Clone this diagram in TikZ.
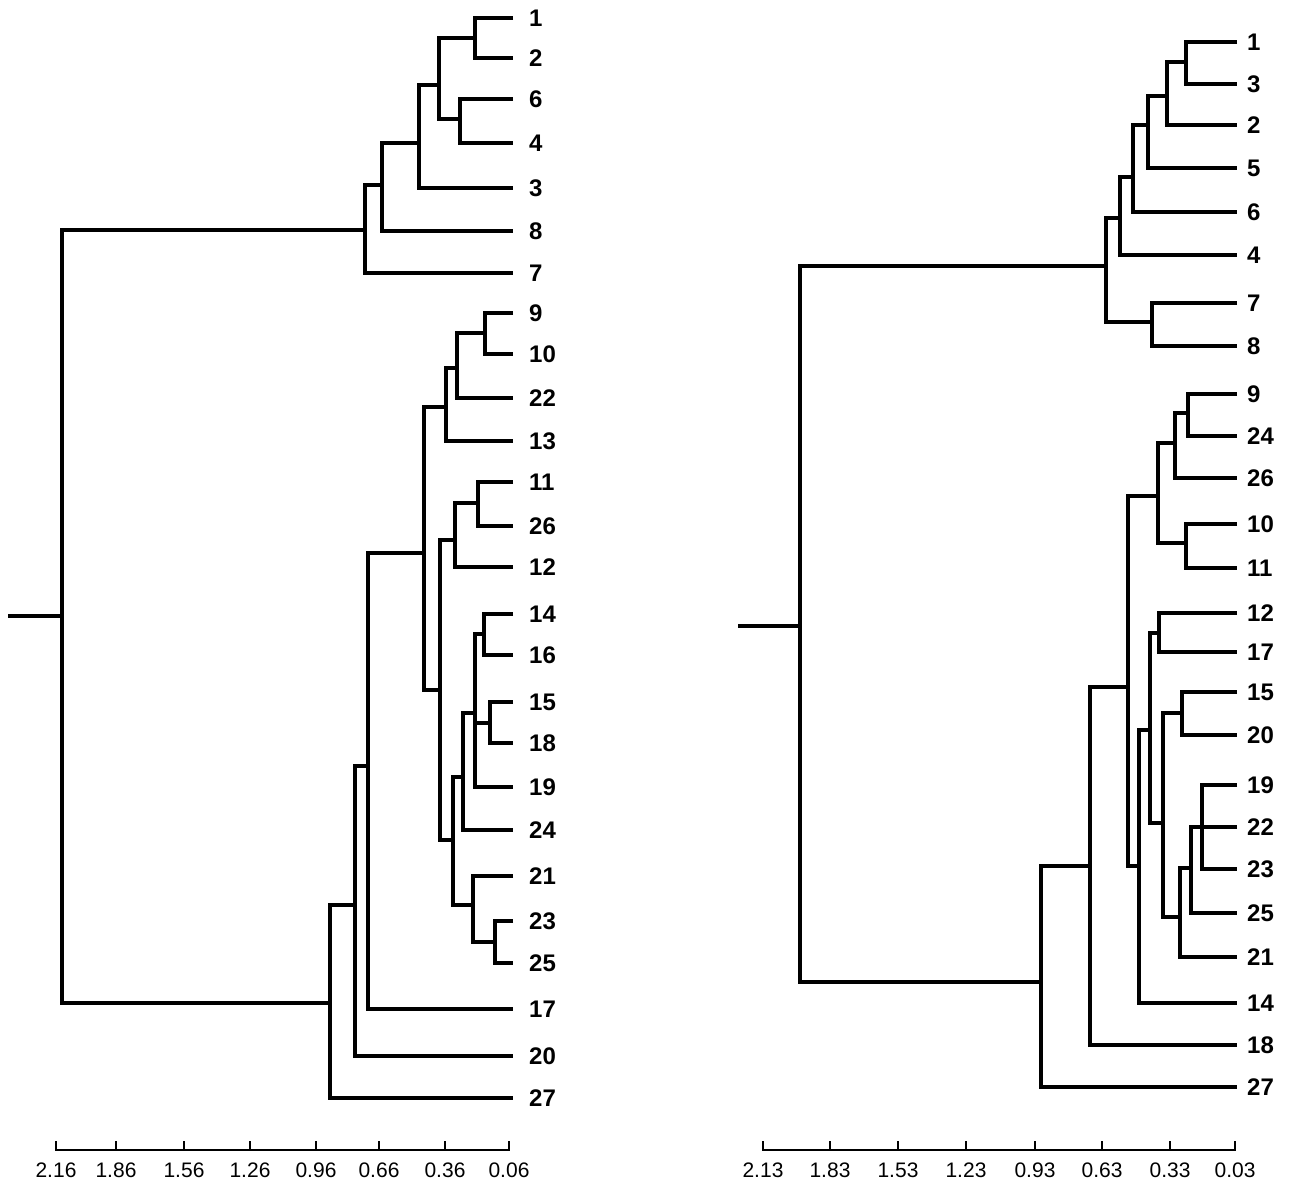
\documentclass[tikz,border=0pt]{standalone}
\usepackage{fontspec}
\setmainfont{Liberation Sans}
\begin{document}
\begin{tikzpicture}[x=1pt,y=-1pt,
  br/.style={line width=3.4pt, line join=miter, line cap=butt},
  axisline/.style={line width=2.4pt},
  lab/.style={anchor=west, inner sep=0pt, font=\fontsize{24}{28}\selectfont\bfseries},
  ticklab/.style={anchor=center, inner sep=0pt, font=\fontsize{21}{25}\selectfont}]
\useasboundingbox[fill=white] (0,0) rectangle (1294,1183);

% ---------------- left dendrogram ----------------
\foreach \n/\y in {1/18,2/58,6/99,4/143,3/188,8/231,7/273,9/313,10/354,22/398,13/441,
  11/482,26/526,12/567,14/614,16/655,15/702,18/743,19/787,24/830,21/876,23/921,25/963,
  17/1009,20/1056,27/1098}{
  \coordinate (L\n) at (513,\y);
  \node[lab] (tL\n) at (529,\y) {\n};
}
\coordinate (a1) at (475,38);
\coordinate (a2) at (460,119);
\coordinate (a3) at (439,85);
\coordinate (a4) at (419,143);
\coordinate (a5) at (382,185);
\coordinate (a6) at (365,230);
\coordinate (b1) at (485,333);
\coordinate (b2) at (457,368);
\coordinate (b3) at (446,407);
\coordinate (b4) at (478,503);
\coordinate (b5) at (455,540);
\coordinate (c1) at (484,634);
\coordinate (c2) at (490,723);
\coordinate (c3) at (475,713);
\coordinate (c4) at (463,777);
\coordinate (c5) at (495,942);
\coordinate (c6) at (473,905);
\coordinate (c7) at (453,840);
\coordinate (b6) at (440,690);
\coordinate (b7) at (424,553);
\coordinate (d1) at (368,766);
\coordinate (d2) at (355,905);
\coordinate (d3) at (330,1003);
\coordinate (rootL) at (62,616);
\coordinate (tailL) at (8,616);

\draw[br] (L1) -| (a1) |- (L2);
\draw[br] (L6) -| (a2) |- (L4);
\draw[br] (a1) -| (a3) |- (a2);
\draw[br] (a3) -| (a4) |- (L3);
\draw[br] (a4) -| (a5) |- (L8);
\draw[br] (a5) -| (a6) |- (L7);
\draw[br] (L9) -| (b1) |- (L10);
\draw[br] (b1) -| (b2) |- (L22);
\draw[br] (b2) -| (b3) |- (L13);
\draw[br] (L11) -| (b4) |- (L26);
\draw[br] (b4) -| (b5) |- (L12);
\draw[br] (L14) -| (c1) |- (L16);
\draw[br] (L15) -| (c2) |- (L18);
\draw[br] (c1) -| (c3) |- (L19);
\draw[br] (c2) -| (c3);
\draw[br] (c3) -| (c4) |- (L24);
\draw[br] (L23) -| (c5) |- (L25);
\draw[br] (L21) -| (c6) |- (c5);
\draw[br] (c4) -| (c7) |- (c6);
\draw[br] (b5) -| (b6) |- (c7);
\draw[br] (b3) -| (b7) |- (b6);
\draw[br] (b7) -| (d1) |- (L17);
\draw[br] (d1) -| (d2) |- (L20);
\draw[br] (d2) -| (d3) |- (L27);
\draw[br] (a6) -| (rootL) |- (d3);
\draw[br] (tailL) -- (rootL);

% left axis
\foreach \i/\x/\t in {1/56/2.16,2/116/1.86,3/184/1.56,4/250/1.26,5/316/0.96,6/379/0.66,7/445/0.36,8/509/0.06}{
  \coordinate (xL\i) at (\x,1150);
  \coordinate (xLt\i) at (\x,1141);
  \node[ticklab] (xLl\i) at (\x,1170) {\t};
}
\draw[axisline] (xLt1) -- (xL1) -- (xL8) -- (xLt8);
\foreach \i in {2,...,7}{\draw[axisline] (xL\i) -- (xLt\i);}

% ---------------- right dendrogram ----------------
\foreach \n/\y in {1/42,3/84,2/125,5/168,6/212,4/255,7/303,8/346,9/394,24/436,26/478,
  10/524,11/568,12/613,17/652,15/692,20/735,19/785,22/827,23/869,25/913,21/957,
  14/1003,18/1045,27/1087}{
  \coordinate (R\n) at (1237,\y);
  \node[lab] (tR\n) at (1247,\y) {\n};
}
\coordinate (e1) at (1186,62);
\coordinate (e2) at (1167,96);
\coordinate (e3) at (1148,125);
\coordinate (e4) at (1133,177);
\coordinate (e5) at (1120,218);
\coordinate (e6) at (1152,322);
\coordinate (e7) at (1106,266);
\coordinate (f1) at (1188,413);
\coordinate (f2) at (1175,443);
\coordinate (f3) at (1186,543);
\coordinate (f4) at (1158,496);
\coordinate (g1) at (1159,633);
\coordinate (g2) at (1182,713);
\coordinate (g3) at (1202,827);
\coordinate (g4) at (1191,868);
\coordinate (g5) at (1180,917);
\coordinate (g6) at (1163,823);
\coordinate (g7) at (1150,730);
\coordinate (g8) at (1139,866);
\coordinate (g9) at (1128,687);
\coordinate (g10) at (1090,866);
\coordinate (g11) at (1041,982);
\coordinate (rootR) at (800,626);
\coordinate (tailR) at (738,626);

\draw[br] (R1) -| (e1) |- (R3);
\draw[br] (e1) -| (e2) |- (R2);
\draw[br] (e2) -| (e3) |- (R5);
\draw[br] (e3) -| (e4) |- (R6);
\draw[br] (e4) -| (e5) |- (R4);
\draw[br] (R7) -| (e6) |- (R8);
\draw[br] (e5) -| (e7) |- (e6);
\draw[br] (R9) -| (f1) |- (R24);
\draw[br] (f1) -| (f2) |- (R26);
\draw[br] (R10) -| (f3) |- (R11);
\draw[br] (f2) -| (f4) |- (f3);
\draw[br] (R12) -| (g1) |- (R17);
\draw[br] (R15) -| (g2) |- (R20);
\draw[br] (R19) -| (g3) |- (R23);
\draw[br] (R22) -| (g4) |- (R25);
\draw[br] (g4) -| (g5) |- (R21);
\draw[br] (g2) -| (g6) |- (g5);
\draw[br] (g1) -| (g7) |- (g6);
\draw[br] (g7) -| (g8) |- (R14);
\draw[br] (f4) -| (g9) |- (g8);
\draw[br] (g9) -| (g10) |- (R18);
\draw[br] (g10) -| (g11) |- (R27);
\draw[br] (e7) -| (rootR) |- (g11);
\draw[br] (tailR) -- (rootR);

% right axis
\foreach \i/\x/\t in {1/763/2.13,2/830/1.83,3/898/1.53,4/966/1.23,5/1035/0.93,6/1102/0.63,7/1170/0.33,8/1235/0.03}{
  \coordinate (xR\i) at (\x,1150);
  \coordinate (xRt\i) at (\x,1141);
  \node[ticklab] (xRl\i) at (\x,1170) {\t};
}
\draw[axisline] (xRt1) -- (xR1) -- (xR8) -- (xRt8);
\foreach \i in {2,...,7}{\draw[axisline] (xR\i) -- (xRt\i);}
\end{tikzpicture}
\end{document}
